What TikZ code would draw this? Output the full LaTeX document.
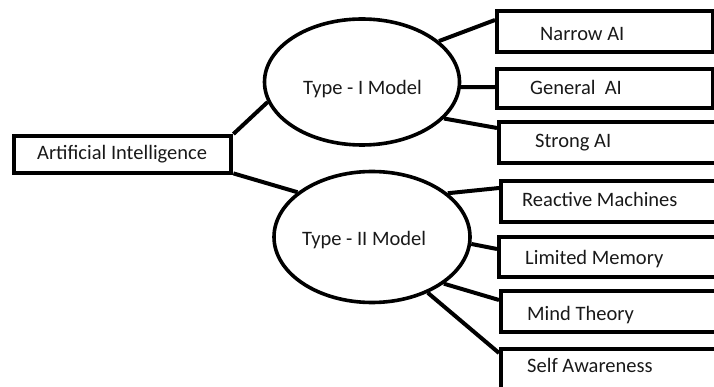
\documentclass[tikz,border=0pt]{standalone}
\usepackage{fontspec}
\setmainfont{Carlito}
\usetikzlibrary{shapes.geometric}
\begin{document}
\begin{tikzpicture}[x=1pt, y=-1pt,
  box/.style={draw, line width=4.4pt, inner sep=0pt, anchor=north west},
  oval/.style={draw, ellipse, line width=3.6pt, inner sep=0pt},
  lbl/.style={anchor=base west, inner sep=0pt, text=black!90, font=\fontsize{20.5}{24}\selectfont},
  link/.style={line width=4pt}]
\useasboundingbox (0,0) rectangle (714,387);
\clip (0,0) rectangle (714,387);

\node[box, minimum width=217pt, minimum height=37pt] (ai) at (12,134) {};
\node[oval, minimum width=195pt, minimum height=126pt] (typeI) at (362,82) {};
\node[oval, minimum width=196pt, minimum height=131pt] (typeII) at (372,237) {};

\node[box, minimum width=216pt, minimum height=41pt] (narrow) at (495,9) {};
\node[box, minimum width=216pt, minimum height=39pt] (general) at (495,67) {};
\node[box, minimum width=217pt, minimum height=41pt] (strong) at (497,120) {};
\node[box, minimum width=215pt, minimum height=41pt] (reactive) at (499,179) {};
\node[box, minimum width=217pt, minimum height=40pt] (limited) at (497,235) {};
\node[box, minimum width=215pt, minimum height=41pt] (mind) at (499,289) {};
\node[box, minimum width=215pt, minimum height=60pt] (self) at (499,347) {};

\node[lbl] (aiT) at (37,160) {Artificial Intelligence};
\node[lbl] (typeIT) at (303,95) {Type - I Model};
\node[lbl] (typeIIT) at (302,245) {Type - II Model};
\node[lbl] (narrowT) at (540,41) {Narrow AI};
\node[lbl] (generalT) at (530,95) {General~~AI};
\node[lbl] (strongT) at (535,148) {Strong AI};
\node[lbl] (reactiveT) at (522,207) {Reactive Machines};
\node[lbl] (limitedT) at (525,265) {Limited Memory};
\node[lbl] (mindT) at (527,320) {Mind Theory};
\node[lbl] (selfT) at (527,372) {Self Awareness};

\draw[link] (ai.north east) -- (typeI.192);
\draw[link] ([yshift=2pt]ai.south east) -- (typeII.149);

\draw[link] (typeI.28) -- ([yshift=-11pt]narrow.north west);
\draw[link] (typeI.-3) -- ([yshift=-20pt]general.north west);
\draw[link] (typeI.-24) -- ([yshift=-8pt]strong.north west);

\draw[link] (typeII.30) -- ([yshift=-9pt]reactive.north west);
\draw[link] (typeII.-4) -- ([yshift=-14pt]limited.north west);
\draw[link] (typeII.-33) -- ([yshift=-11pt]mind.north west);
\draw[link] (typeII.-45) -- ([yshift=-6pt]self.north west);
\end{tikzpicture}
\end{document}
